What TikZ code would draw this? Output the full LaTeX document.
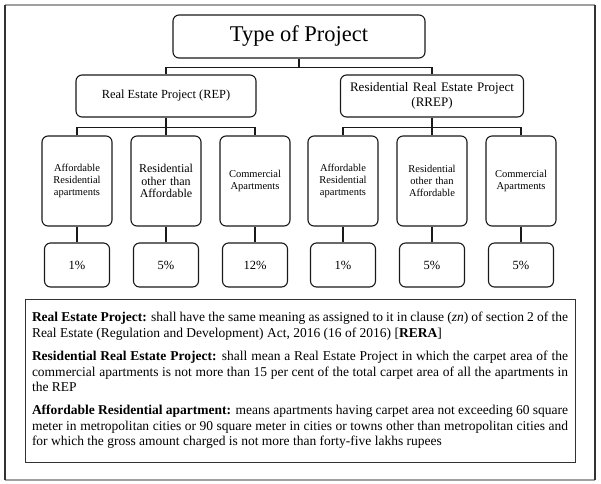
\documentclass[tikz,border=0pt]{standalone}
\usepackage{fontspec}
\setmainfont{Liberation Serif}
\usepackage{tikz}
\usetikzlibrary{positioning}
\usepackage{xcolor}
\definecolor{frgray}{RGB}{160,160,160}
\definecolor{frdark}{RGB}{50,50,50}
\definecolor{lnblack}{RGB}{25,25,25}
\tikzstyle{link} = [line width=1.1pt, draw=lnblack]
\tikzstyle{headbox} = [rectangle, rounded corners=6pt, draw=lnblack, line width=1.1pt, text centered, inner sep=0pt]
\tikzstyle{catbox} = [headbox, minimum width=70pt, minimum height=90pt, text width=66pt, font=\fontsize{10.5}{11.6}\selectfont]
\tikzstyle{ratebox} = [headbox, minimum width=65pt, minimum height=44pt, font=\fontsize{12.5}{15}\selectfont]

\begin{document}
\begin{tikzpicture}[x=1pt, y=-1pt]
\useasboundingbox (0,0) rectangle (601,483);
% outer frame
\draw[frgray, line width=1.6pt] (5,5) -- (595,5);
\draw[frgray, line width=1.6pt] (5,480) -- (595,480);
\draw[frdark, line width=1.1pt] (5,5) -- (5,480);
\draw[frdark, line width=1.1pt] (595,5) -- (595,480);

% top level
\node[headbox, minimum width=252pt, minimum height=43pt, font=\fontsize{22.5}{24}\selectfont] (title) at (299,36.5) {Type of Project};
\node[headbox, minimum width=180pt, minimum height=42pt, font=\fontsize{12.4}{15}\selectfont] (rep) at (166,96) {Real Estate Project (REP)};
\node[headbox, minimum width=183pt, minimum height=42pt, text width=180pt, font=\fontsize{13}{15}\selectfont] (rrep) at (432,96) {Residential Real Estate Project\\(RREP)};

% apartment types
\node[catbox] (rep-aff) at (77,181) {Affordable\\Residential\\apartments};
\node[catbox, font=\fontsize{12}{12.5}\selectfont] (rep-res) at (166,181) {Residential\\other than\\Affordable};
\node[catbox] (rep-com) at (255,181) {Commercial\\Apartments\\[11pt]};
\node[catbox] (rrep-aff) at (343,181) {Affordable\\Residential\\apartments};
\node[catbox] (rrep-res) at (432,181) {Residential\\other than\\Affordable};
\node[catbox] (rrep-com) at (521,181) {Commercial\\Apartments\\[11pt]};

% rates
\node[ratebox] (r1) at (77,265) {1\%};
\node[ratebox] (r2) at (166,265) {5\%};
\node[ratebox] (r3) at (255,265) {12\%};
\node[ratebox] (r4) at (343,265) {1\%};
\node[ratebox] (r5) at (432,265) {5\%};
\node[ratebox] (r6) at (521,265) {5\%};

% connectors
\draw[link] (title.south) -- ++(0,8.5) coordinate (jtop);
\draw[link] (rep.north) |- (jtop) -| (rrep.north);
\draw[link] (rep.south) -- ++(0,10) coordinate (jrep);
\draw[link] (rep-aff.north) |- (jrep) -| (rep-com.north);
\draw[link] (jrep) -- (rep-res.north);
\draw[link] (rrep.south) -- ++(0,10) coordinate (jrrep);
\draw[link] (rrep-aff.north) |- (jrrep) -| (rrep-com.north);
\draw[link] (jrrep) -- (rrep-res.north);
\foreach \t/\r in {rep-aff/r1, rep-res/r2, rep-com/r3, rrep-aff/r4, rrep-res/r5, rrep-com/r6}
  \draw[link] (\t.south) -- (\r.north);

% definitions
\node[draw=frdark, line width=0.9pt, inner xsep=7pt, inner ysep=5pt, minimum height=163pt, text width=536pt, align=justify, font=\fontsize{13.5}{15.4}\selectfont] (defs) at (300,380.5) {%
\setlength{\parindent}{0pt}\setlength{\parskip}{8pt}%
\textbf{Real Estate Project:} shall have the same meaning as assigned to it in clause (\textit{zn}) of section 2 of the Real Estate (Regulation and Development) Act, 2016 (16 of 2016) [\textbf{RERA}]\par
\textbf{Residential Real Estate Project:} shall mean a Real Estate Project in which the carpet area of the commercial apartments is not more than 15 per cent of the total carpet area of all the apartments in the REP\par
\textbf{Affordable Residential apartment:} means apartments having carpet area not exceeding 60 square meter in metropolitan cities or 90 square meter in cities or towns other than metropolitan cities and for which the gross amount charged is not more than forty-five lakhs rupees\par};
\end{tikzpicture}
\end{document}
